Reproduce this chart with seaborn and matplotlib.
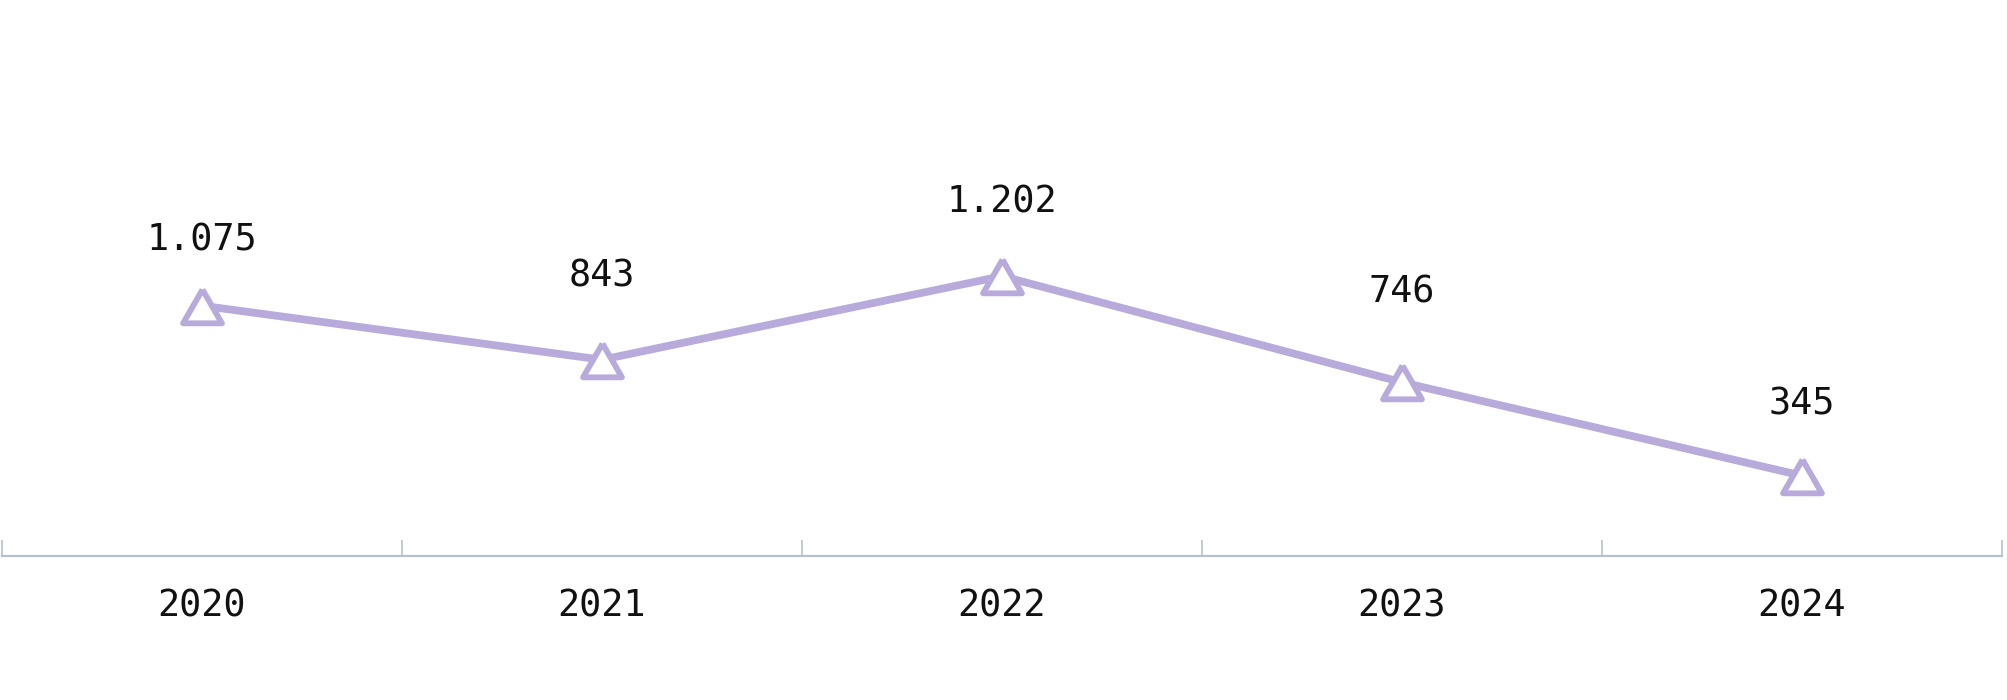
import matplotlib
matplotlib.use("Agg")
import matplotlib.pyplot as plt
from matplotlib.markers import MarkerStyle
from matplotlib.ticker import FixedLocator
import seaborn as sns
import pandas as pd

# ---- data ----
years = ["2020", "2021", "2022", "2023", "2024"]
values = [1075, 843, 1202, 746, 345]

# label offsets above markers (points) - style only
label_offsets = [40, 52.5, 45.5, 57.5, 44]

LINE_COLOR = "#b9aadc"
AXIS_COLOR = "#b5c1ca"
FONT = ["DejaVu Sans Mono"]

sns.set_theme(style="white")
plt.rcParams["font.family"] = FONT

df = pd.DataFrame({"year": years, "value": values})

fig = plt.figure(figsize=(20.08, 7.0), dpi=100)
ax = fig.add_axes([2 / 2008, 144 / 700, 2000 / 2008, 556 / 700])

tri = MarkerStyle([(0, 1), (-1.155, -1), (1.155, -1), (0, 1)], joinstyle="round")

sns.lineplot(data=df, x="year", y="value", ax=ax, color=LINE_COLOR,
             marker=tri, markerfacecolor="white", markeredgecolor=LINE_COLOR)
line = ax.lines[0]
line.set_linewidth(5.6)
line.set_markersize(28)
line.set_markeredgewidth(4.2)
line.set_solid_joinstyle("round")
line.set_solid_capstyle("round")

for i, (yr, v) in enumerate(zip(years, values)):
    txt = f"{v:,}".replace(",", ".")
    ax.annotate(txt, xy=(i, v), xytext=(0, label_offsets[i]),
                textcoords="offset points", ha="center", va="baseline",
                fontsize=26.5, color="#111111", family=FONT)

ax.set_xlim(-0.5, len(years) - 0.5)
ax.set_ylim(0, 2388)

for s in ["left", "right", "top"]:
    ax.spines[s].set_visible(False)
ax.spines["bottom"].set_color(AXIS_COLOR)
ax.spines["bottom"].set_linewidth(1.6)

ax.set_yticks([])
ax.set_xlabel("")
ax.set_ylabel("")
ax.xaxis.set_minor_locator(FixedLocator([i - 0.5 for i in range(len(years) + 1)]))
ax.tick_params(axis="x", which="major", length=0, pad=23, labelsize=26.5,
               labelcolor="#111111")
ax.tick_params(axis="x", which="minor", direction="in", length=11.5, width=1.2,
               color=AXIS_COLOR, bottom=True)
for lbl in ax.get_xticklabels():
    lbl.set_family(FONT)

fig.savefig("out.png", dpi=100, facecolor="white")
